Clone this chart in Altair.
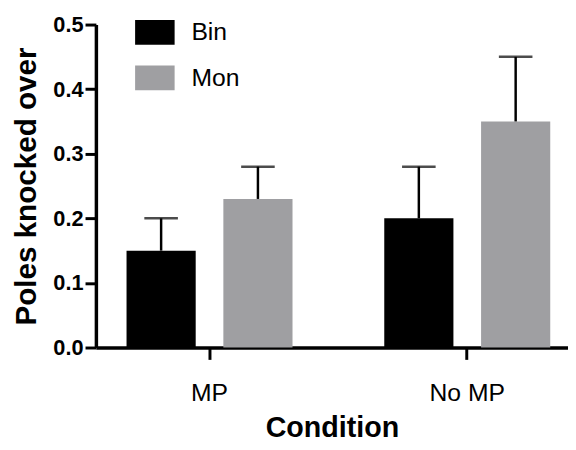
import altair as alt
import pandas as pd

conditions = ["MP", "MP", "No MP", "No MP"]
groups = ["Bin", "Mon", "Bin", "Mon"]
means = [0.15, 0.23, 0.20, 0.35]
uppers = [0.20, 0.28, 0.28, 0.45]

df = pd.DataFrame({"Condition": conditions, "Group": groups, "Mean": means, "Upper": uppers})

FONT = "Liberation Sans"

x_enc = alt.X("Condition:N", sort=["MP", "No MP"],
              scale=alt.Scale(paddingInner=0.356, paddingOuter=0.0939, align=0.633),
              axis=alt.Axis(title="Condition", labelAngle=0, labelFontSize=25, labelFont=FONT,
                            labelColor="black", labelPadding=22, tickSize=12, tickWidth=3,
                            tickColor="black", domainWidth=3.5, domainColor="black",
                            titleFontSize=29, titleFont=FONT, titleFontWeight="bold",
                            titleColor="black", titlePadding=8))
xo_enc = alt.XOffset("Group:N", sort=["Bin", "Mon"],
                     scale=alt.Scale(paddingInner=0.2857, paddingOuter=0))

bars = alt.Chart(df).mark_bar().encode(
    x=x_enc,
    xOffset=xo_enc,
    y=alt.Y("Mean:Q", scale=alt.Scale(domain=[0, 0.5], nice=False),
            axis=alt.Axis(title="Poles knocked over", values=[0, 0.1, 0.2, 0.3, 0.4, 0.5],
                          format=".1f", labelFontSize=22, labelFont=FONT, labelFontWeight="bold",
                          labelColor="black", labelPadding=2, tickSize=11, tickWidth=3,
                          tickColor="black", domainWidth=3.5, domainColor="black", grid=False,
                          titleFontSize=30, titleFont=FONT, titleFontWeight="bold",
                          titleColor="black", titlePadding=12)),
    color=alt.Color("Group:N", sort=["Bin", "Mon"],
                    scale=alt.Scale(domain=["Bin", "Mon"], range=["#000000", "#9f9fa2"]),
                    legend=alt.Legend(title=None, orient="none", legendX=39.7, legendY=-12,
                                      symbolType="M-1,-0.625H1V0.625H-1Z", symbolSize=1600,
                                      symbolStrokeWidth=0, labelFontSize=25, labelFont=FONT,
                                      labelColor="black", labelOffset=17, rowPadding=13,
                                      padding=0)),
)

stems = alt.Chart(df).mark_rule(color="black", strokeWidth=2.5).encode(
    x=x_enc, xOffset=xo_enc, y="Mean:Q", y2="Upper:Q"
)

caps = alt.Chart(df).mark_tick(color="black", thickness=2.5, size=34).encode(
    x=x_enc, xOffset=xo_enc, y="Upper:Q"
)

chart = alt.layer(bars, stems, caps).properties(
    width=478, height=327,
    autosize=alt.AutoSizeParams(type="none"),
    padding={"left": 89, "top": 14, "right": 0, "bottom": 101},
).configure_view(stroke=None)

chart.save("out.html", embed_options={"renderer": "svg", "actions": False})
